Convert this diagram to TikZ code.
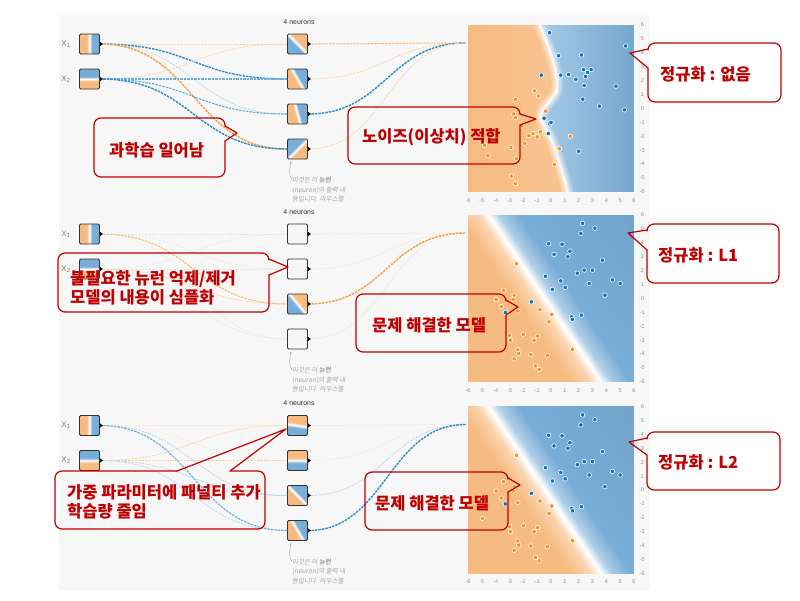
\documentclass[tikz,border=0pt]{standalone}
\usepackage{fontspec}
\setmainfont{Liberation Sans}
\newfontfamily\kr{Noto Sans CJK KR}
\newfontfamily\krnote{Noto Sans CJK KR}[FakeSlant=0.15]
\usetikzlibrary{calc,arrows.meta}

\definecolor{porange}{HTML}{F59322}
\definecolor{pblue}{HTML}{0877BD}
\definecolor{bgorange}{HTML}{F6BB80}
\definecolor{bgblue}{HTML}{78ADD7}
\definecolor{panelgray}{HTML}{F7F7F7}
\definecolor{calloutred}{HTML}{C00000}

% unit colouring: orange below, blue above, turned by the shading angle
\pgfdeclareverticalshading{split}{100bp}{color(0bp)=(bgorange); color(44bp)=(bgorange); color(50bp)=(white); color(56bp)=(bgblue); color(100bp)=(bgblue)}
% straight decision boundary of the L1/L2 plots
\pgfdeclareverticalshading{bound}{100bp}{color(0bp)=(bgorange); color(41bp)=(bgorange); color(46bp)=(bgorange!60!white); color(48.5bp)=(white); color(51bp)=(bgblue!60!white); color(56bp)=(bgblue); color(100bp)=(bgblue!92!black)}

% data points (first plot, then the two regularised ones)
\def\dotsAblue{-0.1/5.45,0.55/3.8,2.2/3.85,-0.7/2.4,0.7/2.4,1.27/2.45,1.8/2.1,2.35/2.8,2.65/2.6,2.9/2.8,2.5/2.3,2.4/1.65,2.3/0.67,3.5/0.17,4.7/1.6,5.4/4.5,5.3/-0.1,-0.5/-0.7,-0.1/-1.1,0/-1.0,-0.2/-1.8,2.0/-3.07}
\def\dotsAorange{-1.2/1.27,-0.9/0.9,-2.57/0.65,-2.7/-0.4,-2.57/-0.65,-0.38/-0.2,-2.1/-1.25,-0.77/-1.68,-1.3/-1.8,-1.6/-1.95,-1.0/-2.04,-1.9/-2.5,-2.9/-2.8,-4.8/-2.64,-4.56/-3.4,-2.5/-3.6,0.6/-2.9,0.24/-4.03,1.4/-2.0,-2.85/-4.87,-2.57/-5.4}
\def\dotsBblue{2.28/5.4,3.17/5.06,2.16/4.68,-0.17/3.94,0.8/3.9,1.37/3.4,0.22/3.17,1.22/3.0,3.72/2.76,1.9/1.82,2.4/2.04,3.0/2.04,-0.4/1.6,0.7/1.27,1.03/0.8,0.1/0.65,2.76/1.08,4.44/1.34,5.0/1.08,3.9/0.24,-1.42/-0.24,-3.3/-1.0,1.5/-1.32,1.55/-1.5,2.2/-1.2}
\def\dotsBorange{-2.5/2.5,-3.43/0.6,-2.66/0.24,-2.74/-0.07,-3.96/-0.07,-3.6/-0.58,-2.4/-0.9,-0.8/-0.8,0.05/-1.15,-0.14/-1.68,-3.0/-2.64,-2.93/-3.0,-2.0/-2.57,-0.96/-2.7,-1.22/-3.0,-2.4/-3.67,-2.33/-3.96,-1.46/-4.03,-0.26/-4.08,-2.66/-4.34,1.56/-3.65,-1.13/-4.85,-0.86/-5.1,-4.97/-2.04}

% callout outlines: box node, the two ends of the pointer base, tip
\newcommand{\calloutR}[4]{%
\draw[callout line] ($(#1.north east)+(0,#3)$) -- (#1.south east) -- (#1.south west) -- (#1.north west) -- (#1.north east) -- ($(#1.north east)+(0,#2)$);
\draw[callout line,sharp corners] ($(#1.north east)+(0,#2)$) -- (#4) -- ($(#1.north east)+(0,#3)$);}
\newcommand{\calloutL}[4]{%
\draw[callout line] ($(#1.north west)+(0,#2)$) -- (#1.north west) -- (#1.north east) -- (#1.south east) -- (#1.south west) -- ($(#1.north west)+(0,#3)$);
\draw[callout line,sharp corners] ($(#1.north west)+(0,#2)$) -- (#4) -- ($(#1.north west)+(0,#3)$);}
\newcommand{\calloutT}[4]{%
\draw[callout line] ($(#1.north west)+(#3,0)$) -- (#1.north east) -- (#1.south east) -- (#1.south west) -- (#1.north west) -- ($(#1.north west)+(#2,0)$);
\draw[callout line,sharp corners] ($(#1.north west)+(#2,0)$) -- (#4) -- ($(#1.north west)+(#3,0)$);}

\begin{document}
\begin{tikzpicture}[x=1pt,y=-1pt,font=\footnotesize]
\tikzset{
% network units: coloured, empty, and the small output port
unit/.style={draw=black!80,line width=0.8pt,rounded corners=1.2pt,minimum size=20pt,inner sep=0,shade,shading=split},
empty unit/.style={draw=black!80,line width=0.8pt,rounded corners=1.2pt,minimum size=20pt,inner sep=0,fill=black!4},
port/.style={fill=black},
% links, dashed as in the playground
link/.style={dash pattern=on 2.5pt off 1pt},
fo/.style={draw=porange!22,line width=0.6pt},
wo/.style={draw=porange!40,line width=0.7pt},
mo/.style={draw=porange!65,line width=1pt},
so/.style={draw=porange!90,line width=1.4pt},
wb/.style={draw=pblue!30,line width=0.7pt},
mb/.style={draw=pblue!60,line width=1.1pt},
sb/.style={draw=pblue!85,line width=1.4pt},
zero/.style={draw=black!10,line width=0.5pt},
% points and texts
blue dot/.style={fill=pblue,draw=white,line width=0.6pt},
orange dot/.style={fill=porange,draw=white,line width=0.6pt},
tick/.style={font=\fontsize{5.5}{6}\selectfont,text=black!45,inner sep=0},
head/.style={font=\fontsize{7}{8}\selectfont,text=black!80,inner sep=0},
xlabel/.style={font=\fontsize{8}{9}\selectfont,text=black!50,inner sep=0},
note/.style={font=\krnote\fontsize{6.5}{9.5}\selectfont,text=black!35,align=left,inner sep=0,anchor=north west},
note arrow/.style={draw=black!40,line width=0.4pt,-{Stealth[length=2pt]}},
callout box/.style={inner sep=0,outer sep=0},
callout text/.style={font=\kr\bfseries\fontsize{16.5}{19}\selectfont,text=calloutred,align=left,inner sep=0,anchor=west},
callout line/.style={draw=calloutred,line width=1.2pt,rounded corners=7pt,line cap=round,line join=round}
}
\useasboundingbox (0,0) rectangle (800,600);
\fill[panelgray] (59,15) rectangle (650,590);

% ===== panel 1: no regularisation =====
\begin{scope}[shift={(551,108.5)},x=13.83pt,y=13.9pt]
\begin{scope}
\clip (-6,-6) rectangle (6,6);
\shade[left color=bgorange,right color=bgorange!75!white] (-6,-6) rectangle (6,6);
\shade[left color=bgblue!65!white,right color=bgblue!95!black] plot[smooth] coordinates {(-0.9,6.5) (-0.8,6) (0.14,3.5) (0.43,1.33) (-0.72,-0.47) (0.14,-2.48) (1.0,-5.14) (1.3,-6.5)} -- (6.5,-6.5) -- (6.5,6.5) -- cycle;
\foreach \w/\o in {12/0.2,8/0.3,4/0.45,1.5/0.7}
\draw[white,opacity=\o,line width=\w pt] plot[smooth] coordinates {(-0.9,6.5) (-0.8,6) (0.14,3.5) (0.43,1.33) (-0.72,-0.47) (0.14,-2.48) (1.0,-5.14) (1.3,-6.5)};
\end{scope}
\foreach \px/\py in \dotsAblue \path[blue dot] (\px,\py) circle (2.3pt);
\foreach \px/\py in \dotsAorange \path[orange dot] (\px,\py) circle (2.3pt);
\foreach \v in {-6,...,6} {
\node[tick] (p1r\v) at (6.6,\v) {\v};
\node[tick] (p1b\v) at (\v,-6.6) {\v};
}
\end{scope}
\coordinate (p1out) at (466,43);
% inputs and hidden layer
\node[unit,shading angle=-90] (p1x1) at (89.5,44) {};
\node[unit,shading angle=0] (p1x2) at (89.5,79) {};
\foreach \i/\yy/\ang in {1/44/135,2/79/-60,3/114/-75,4/149/45}
\node[unit,shading angle=\ang] (p1n\i) at (297.5,\yy) {};
\foreach \a/\b/\s in {x1/n1/wo,x1/n2/sb,x1/n3/wb,x1/n4/so,x2/n1/wo,x2/n2/mb,x2/n3/mb,x2/n4/sb}
\draw[link,\s] (p1\a.east) .. controls +(94,0) and +(-94,0) .. (p1\b.west);
\foreach \b/\s in {n1/mo,n2/wo,n3/sb,n4/wo}
\draw[link,\s] (p1\b.east) .. controls +(78,0) and +(-78,0) .. (p1out);
\foreach \n in {x1,x2,n1,n2,n3,n4}
\fill[port] (p1\n.east) ++(0,-2.2) -- ++(3,2.2) -- ++(-3,2.2) -- cycle;
\node[xlabel] (p1l1) at (66,44) {X\textsubscript{1}};
\node[xlabel] (p1l2) at (66,79) {X\textsubscript{2}};
\node[head] (p1head) at (299,22) {4 neurons};
\node[note] (p1note) at (292,177) {이것은 이 \textbf{뉴런}\\(neuron)의 출력 내\\용입니다. 마우스를};
\draw[note arrow] ($(p1note.north west)+(0,3)$) .. controls +(-4,-5) and +(-1,5) .. ($(p1n4.south west)+(4,2)$);

% ===== panel 2: L1 =====
\begin{scope}[shift={(0,190)}]
\begin{scope}[shift={(551,108.5)},x=13.83pt,y=13.9pt]
\shade[shading=bound,shading angle=-56] (-6,-6) rectangle (6,6);
\foreach \px/\py in \dotsBblue \path[blue dot] (\px,\py) circle (2.3pt);
\foreach \px/\py in \dotsBorange \path[orange dot] (\px,\py) circle (2.3pt);
\foreach \v in {-6,...,6} {
\node[tick] (p2r\v) at (6.6,\v) {\v};
\node[tick] (p2b\v) at (\v,-6.6) {\v};
}
\end{scope}
\coordinate (p2out) at (466,43);
\node[unit,shading angle=-90] (p2x1) at (89.5,44) {};
\node[unit,shading angle=0] (p2x2) at (89.5,79) {};
\node[empty unit] (p2n1) at (297.5,44) {};
\node[empty unit] (p2n2) at (297.5,79) {};
\node[unit,shading angle=130] (p2n3) at (297.5,114) {};
\node[empty unit] (p2n4) at (297.5,149) {};
\foreach \a/\b/\s in {x1/n1/zero,x1/n2/zero,x1/n4/zero,x2/n1/zero,x2/n2/zero,x2/n4/zero,x2/n3/wo,x1/n3/mo}
\draw[link,\s] (p2\a.east) .. controls +(94,0) and +(-94,0) .. (p2\b.west);
\foreach \b/\s in {n1/zero,n2/zero,n4/zero,n3/so}
\draw[link,\s] (p2\b.east) .. controls +(78,0) and +(-78,0) .. (p2out);
\foreach \n in {x1,x2,n1,n2,n3,n4}
\fill[port] (p2\n.east) ++(0,-2.2) -- ++(3,2.2) -- ++(-3,2.2) -- cycle;
\node[xlabel] (p2l1) at (66,44) {X\textsubscript{1}};
\node[xlabel] (p2l2) at (66,79) {X\textsubscript{2}};
\node[head] (p2head) at (299,22) {4 neurons};
\node[note] (p2note) at (292,177) {이것은 이 \textbf{뉴런}\\(neuron)의 출력 내\\용입니다. 마우스를};
\draw[note arrow] ($(p2note.north west)+(0,3)$) .. controls +(-4,-5) and +(-1,5) .. ($(p2n4.south west)+(4,2)$);
\end{scope}

% ===== panel 3: L2 =====
\begin{scope}[shift={(0,381.5)}]
\begin{scope}[shift={(551,108.5)},x=13.83pt,y=13.9pt]
\shade[shading=bound,shading angle=-56] (-6,-6) rectangle (6,6);
\foreach \px/\py in \dotsBblue \path[blue dot] (\px,\py) circle (2.3pt);
\foreach \px/\py in \dotsBorange \path[orange dot] (\px,\py) circle (2.3pt);
\foreach \v in {-6,...,6} {
\node[tick] (p3r\v) at (6.6,\v) {\v};
\node[tick] (p3b\v) at (\v,-6.6) {\v};
}
\end{scope}
\coordinate (p3out) at (466,43);
\node[unit,shading angle=-90] (p3x1) at (89.5,44) {};
\node[unit,shading angle=0] (p3x2) at (89.5,79) {};
\foreach \i/\yy/\ang in {1/44/172,2/79/180,3/114/-45,4/149/-60}
\node[unit,shading angle=\ang] (p3n\i) at (297.5,\yy) {};
\foreach \a/\b/\s in {x1/n1/fo,x1/n2/fo,x2/n1/wo,x2/n2/wo,x1/n3/wb,x2/n3/wb,x2/n4/wb,x1/n4/mb}
\draw[link,\s] (p3\a.east) .. controls +(94,0) and +(-94,0) .. (p3\b.west);
\foreach \b/\s in {n1/fo,n2/fo,n3/wb,n4/sb}
\draw[link,\s] (p3\b.east) .. controls +(78,0) and +(-78,0) .. (p3out);
\foreach \n in {x1,x2,n1,n2,n3,n4}
\fill[port] (p3\n.east) ++(0,-2.2) -- ++(3,2.2) -- ++(-3,2.2) -- cycle;
\node[xlabel] (p3l1) at (66,44) {X\textsubscript{1}};
\node[xlabel] (p3l2) at (66,79) {X\textsubscript{2}};
\node[head] (p3head) at (299,22) {4 neurons};
\node[note] (p3note) at (292,177) {이것은 이 \textbf{뉴런}\\(neuron)의 출력 내\\용입니다. 마우스를};
\draw[note arrow] ($(p3note.north west)+(0,3)$) .. controls +(-4,-5) and +(-1,5) .. ($(p3n4.south west)+(4,2)$);
\end{scope}

% ===== callouts =====
\node[callout box,minimum width=131,minimum height=59] (c1) at (159.5,147.5) {};
\node[callout text] (t1) at (109,150) {과학습 일어남};
\coordinate (c1tip) at (237,133);
\calloutR{c1}{8}{23}{c1tip}

\node[callout box,minimum width=172,minimum height=57] (c2) at (434,135.5) {};
\node[callout text] (t2) at (362,137) {노이즈(이상치) 적합};
\coordinate (c2tip) at (536,119);
\calloutR{c2}{7}{18}{c2tip}

\node[callout box,minimum width=133,minimum height=59] (c3) at (714.5,72.5) {};
\node[callout text] (t3) at (660,74) {정규화 : 없음};
\coordinate (c3tip) at (630,53);
\calloutL{c3}{6}{25}{c3tip}

\node[callout box,minimum width=211,minimum height=59] (c4) at (163.5,282.5) {};
\node[callout text] (t4) at (70,288) {불필요한 뉴런 억제/제거\\모델의 내용이 심플화};
\coordinate (c4tip) at (288,267);
\calloutR{c4}{6}{22}{c4tip}

\node[callout box,minimum width=150,minimum height=58] (c5) at (431,323) {};
\node[callout text] (t5) at (372,325) {문제 해결한 모델};
\coordinate (c5tip) at (518,307);
\calloutR{c5}{6}{21}{c5tip}

\node[callout box,minimum width=132,minimum height=59] (c6) at (713,253.5) {};
\node[callout text] (t6) at (658,255) {정규화 : L1};
\coordinate (c6tip) at (628,233);
\calloutL{c6}{6}{26}{c6tip}

\node[callout box,minimum width=210,minimum height=58] (c7) at (160,500) {};
\node[callout text] (t7) at (67,502) {가중 파라미터에 패널티 추가\\학습량 줄임};
\coordinate (c7tip) at (286,429);
\calloutT{c7}{122}{175}{c7tip}

\node[callout box,minimum width=143,minimum height=58] (c8) at (436.5,501) {};
\node[callout text] (t8) at (375,503) {문제 해결한 모델};
\coordinate (c8tip) at (520,485);
\calloutR{c8}{6}{20}{c8tip}

\node[callout box,minimum width=133,minimum height=58] (c9) at (713.5,461) {};
\node[callout text] (t9) at (658,462) {정규화 : L2};
\coordinate (c9tip) at (629,442);
\calloutL{c9}{6}{23}{c9tip}
\end{tikzpicture}
\end{document}
